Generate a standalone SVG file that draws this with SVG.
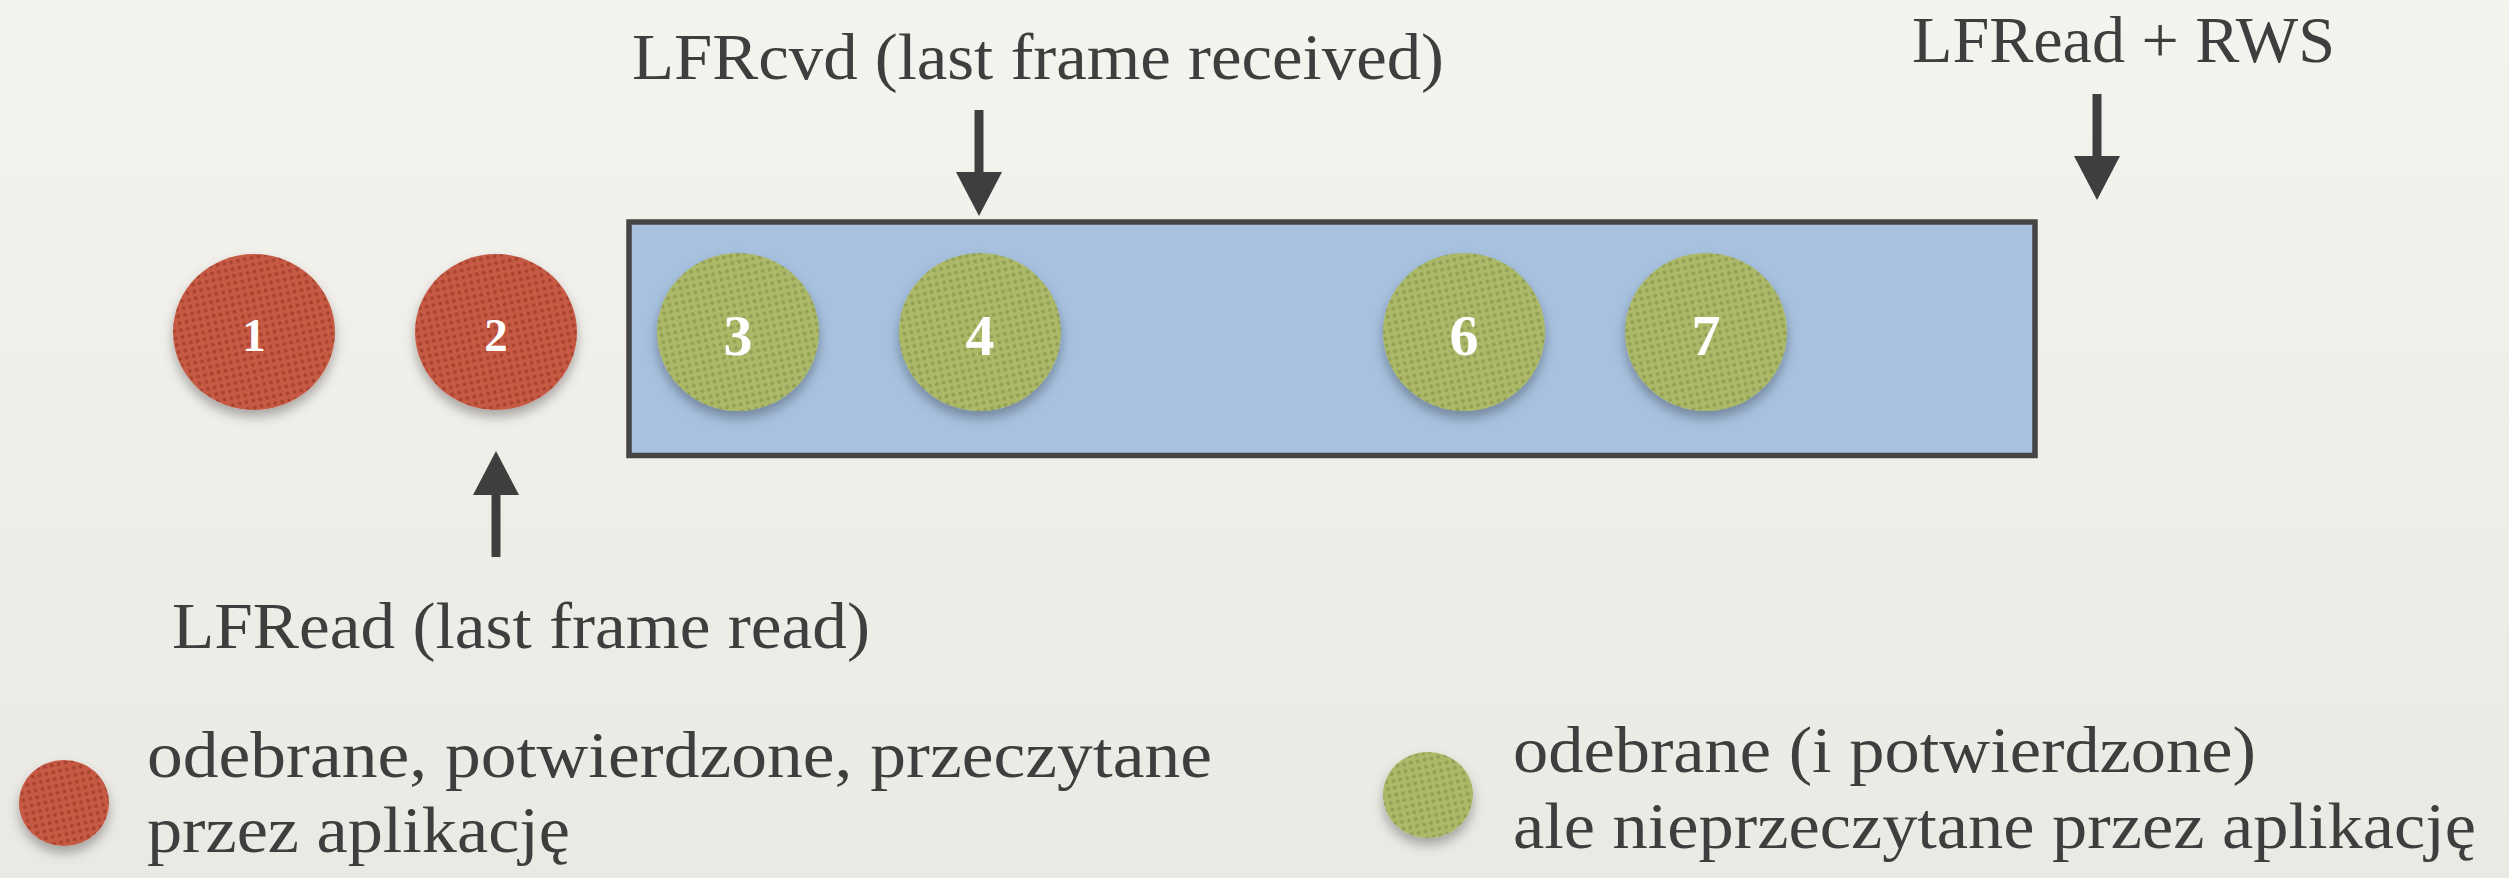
<svg xmlns="http://www.w3.org/2000/svg" width="2509" height="878" viewBox="0 0 2509 878">
<style>
.lbl{font-family:"Liberation Serif","Times New Roman",serif;font-size:66px;fill:#3e3e3e}
.num{font-family:"Liberation Serif","Times New Roman",serif;font-weight:bold;fill:#ffffff;text-anchor:middle}
.conn{stroke:#3e3e3e;stroke-width:9;fill:none}
</style>
<defs>
<linearGradient id="bg" x1="0" y1="0" x2="0" y2="1">
<stop offset="0" stop-color="#f5f3ee"/>
<stop offset="1" stop-color="#ebe9e4"/>
</linearGradient>
<pattern id="redDots" width="7" height="7" patternUnits="userSpaceOnUse" patternTransform="rotate(-12)">
<rect width="7" height="7" fill="#c65a44"/>
<circle cx="3.5" cy="3.5" r="1.9" fill="#a9432f"/>
</pattern>
<pattern id="greenDots" width="7" height="7" patternUnits="userSpaceOnUse" patternTransform="rotate(-12)">
<rect width="7" height="7" fill="#abb967"/>
<circle cx="3.5" cy="3.5" r="1.9" fill="#939f55"/>
</pattern>
<filter id="shadow" x="-30%" y="-30%" width="160%" height="170%">
<feDropShadow dx="0" dy="7" stdDeviation="6" flood-color="#000" flood-opacity="0.3"/>
</filter>
<marker id="head" markerUnits="userSpaceOnUse" markerWidth="44" markerHeight="46" viewBox="0 0 44 46" refX="14" refY="23" orient="auto">
<path d="M0,0 L44,23 L0,46 z" fill="#3e3e3e"/>
</marker>
</defs>
<rect width="2509" height="878" fill="url(#bg)"/>

<g id="window">
<rect x="629" y="222" width="1406" height="233.5" fill="#a7c1df" stroke="#454545" stroke-width="5.5"/>
</g>

<g id="frame1">
<ellipse cx="254" cy="332" rx="81" ry="78" fill="url(#redDots)" filter="url(#shadow)"/>
<text class="num" x="254" y="351" font-size="47">1</text>
</g>
<g id="frame2">
<ellipse cx="496" cy="332" rx="81" ry="78" fill="url(#redDots)" filter="url(#shadow)"/>
<text class="num" x="496" y="351" font-size="47">2</text>
</g>
<g id="frame3">
<ellipse cx="738" cy="332" rx="81" ry="79" fill="url(#greenDots)" filter="url(#shadow)"/>
<text class="num" x="738" y="355" font-size="58">3</text>
</g>
<g id="frame4">
<ellipse cx="980" cy="332" rx="81" ry="79" fill="url(#greenDots)" filter="url(#shadow)"/>
<text class="num" x="980" y="355" font-size="58">4</text>
</g>
<g id="frame6">
<ellipse cx="1464" cy="332" rx="81" ry="79" fill="url(#greenDots)" filter="url(#shadow)"/>
<text class="num" x="1464" y="355" font-size="58">6</text>
</g>
<g id="frame7">
<ellipse cx="1706" cy="332" rx="81" ry="79" fill="url(#greenDots)" filter="url(#shadow)"/>
<text class="num" x="1706" y="355" font-size="58">7</text>
</g>

<g id="label-lfrcvd">
<text class="lbl" x="632" y="79" textLength="812" lengthAdjust="spacingAndGlyphs">LFRcvd (last frame received)</text>
</g>
<g id="label-lfread-rws">
<text class="lbl" x="1912" y="62" textLength="423" lengthAdjust="spacingAndGlyphs">LFRead + RWS</text>
</g>
<g id="label-lfread">
<text class="lbl" x="172" y="648" textLength="698" lengthAdjust="spacingAndGlyphs">LFRead (last frame read)</text>
</g>

<g id="connectors">
<line class="conn" x1="979" y1="110" x2="979" y2="186" marker-end="url(#head)"/>
<line class="conn" x1="2097" y1="94" x2="2097" y2="170" marker-end="url(#head)"/>
<line class="conn" x1="496" y1="557" x2="496" y2="481" marker-end="url(#head)"/>
</g>

<g id="legend-red">
<ellipse cx="64" cy="803" rx="45" ry="43" fill="url(#redDots)" filter="url(#shadow)"/>
<text class="lbl" x="147" y="777" textLength="1065" lengthAdjust="spacingAndGlyphs">odebrane, potwierdzone, przeczytane</text>
<text class="lbl" x="147" y="852" textLength="423" lengthAdjust="spacingAndGlyphs">przez aplikację</text>
</g>
<g id="legend-green">
<ellipse cx="1428" cy="795" rx="45" ry="43" fill="url(#greenDots)" filter="url(#shadow)"/>
<text class="lbl" x="1513" y="772" textLength="743" lengthAdjust="spacingAndGlyphs">odebrane (i potwierdzone)</text>
<text class="lbl" x="1513" y="848" textLength="963" lengthAdjust="spacingAndGlyphs">ale nieprzeczytane przez aplikację</text>
</g>
</svg>
